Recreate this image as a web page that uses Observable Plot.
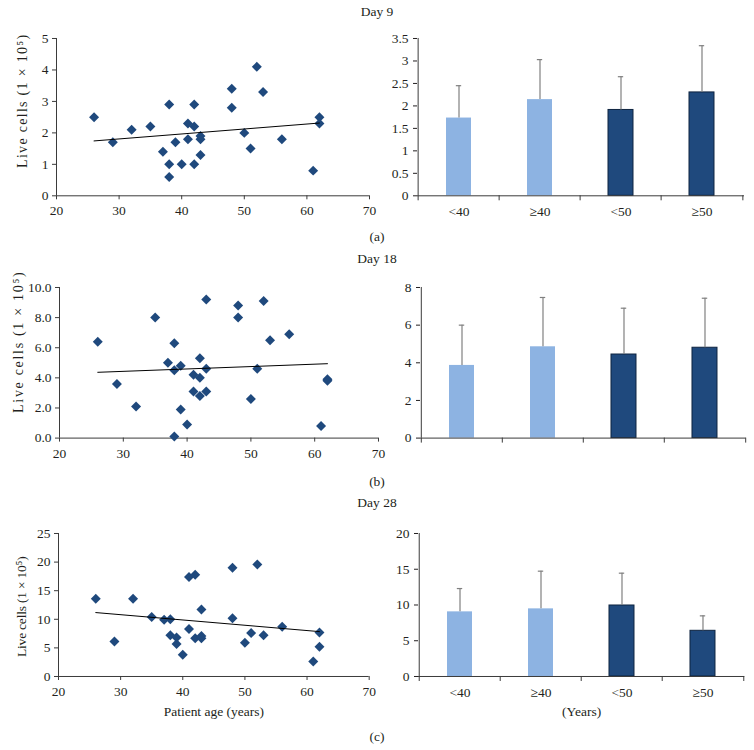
<!DOCTYPE html>
<html><head><meta charset="utf-8">
<script src="https://cdn.jsdelivr.net/npm/d3@7"></script>
<script src="https://cdn.jsdelivr.net/npm/@observablehq/plot@0.6"></script>
<style>
body{margin:0;background:#fff;}
#page{position:relative;width:754px;height:750px;font-family:"Liberation Serif",serif;color:#231f20;overflow:hidden;}
.t{position:absolute;font-size:13.5px;transform:translate(-50%,-50%);white-space:nowrap;}
</style></head><body><div id="page"></div>
<script>
// ---- data ----
const ages9  = [26,29,32,35,37,38,38,38,39,40,41,41,42,42,42,43,43,43,48,48,50,51,52,53,56,61,62,62];
const cells9 = [2.5,1.7,2.1,2.2,1.4,2.9,1.0,0.6,1.7,1.0,2.3,1.8,2.9,2.2,1.0,1.9,1.8,1.3,3.4,2.8,2.0,1.5,4.1,3.3,1.8,0.8,2.5,2.3];
const ages18  = [26,29,32,35,37,38,38,38,39,39,40,41,41,42,42,42,43,43,43,48,48,50,51,52,53,56,61,62,62];
const cells18 = [6.4,3.6,2.1,8.0,5.0,4.5,6.3,0.1,4.8,1.9,0.9,4.2,3.1,5.3,4.0,2.8,9.2,4.6,3.1,8.8,8.0,2.6,4.6,9.1,6.5,6.9,0.8,3.9,3.8];
const ages28  = [26,29,32,35,37,38,38,39,39,40,41,41,42,42,43,43,43,48,48,50,51,52,53,56,61,62,62];
const cells28 = [13.6,6.1,13.6,10.4,9.9,10.0,7.2,6.8,5.7,3.8,17.4,8.3,17.8,6.7,11.7,7.1,6.7,19.0,10.2,5.9,7.6,19.6,7.2,8.7,2.6,7.7,5.2];

const groups  = ["<40","≥40","<50","≥50"];
const cutoffs = [40,40,50,50];
const mean9  = [1.73,2.14,1.91,2.30];
const sd9    = [0.72,0.89,0.74,1.04];
const mean18 = [3.86,4.85,4.44,4.80];
const sd18   = [2.14,2.62,2.46,2.63];
const mean28 = [9.04,9.46,9.93,6.39];
const sd28   = [3.26,5.27,4.52,2.09];

const ageTicks = [20,30,40,50,60,70];
const yTicks9s = [0,1,2,3,4,5];
const yTicks9b = [0,0.5,1,1.5,2,2.5,3,3.5];
const yTicks18s = [0,2,4,6,8,10];
const yTicks18b = [0,2,4,6,8];
const yTicks28s = [0,5,10,15,20,25];
const yTicks28b = [0,5,10,15,20];

const titles = ["Day 9","Day 18","Day 28"];
const panelTags = ["(a)","(b)","(c)"];
const yLabel = "Live cells (1 × 10⁵)";
const xLabelAge = "Patient age (years)";
const xLabelGroup = "(Years)";

// ---- styling ----
const page = document.getElementById("page");
const INK = "#231f20";
const AXIS = "#3a3a3a";
const DOT = "#1f497d";
const LIGHT = "#8db3e2";
const DARK = "#1f497d";
const ERR = "#808080";
const FONT = '"Liberation Serif", serif';
const baseStyle = {fontFamily: FONT, fontSize:"13.5px", color:INK, overflow:"visible", background:"transparent"};

function place(node, left, top){
  node.style.position = "absolute";
  node.style.left = left + "px";
  node.style.top = top + "px";
  page.appendChild(node);
}
function label(text, x, y){
  const d = document.createElement("div");
  d.className = "t"; d.textContent = text;
  d.style.left = x + "px"; d.style.top = y + "px";
  page.appendChild(d);
}

function scatter(o){
  const data = o.ages.map((a,i)=>({age:a, cells:o.cells[i]}));
  const mt = 20, mb = 50, mr = 12;
  const W = o.right + mr, H = (o.bottom - o.top) + mt + mb;
  const p = Plot.plot({
    width: W, height: H,
    marginLeft: o.left, marginRight: mr, marginTop: mt, marginBottom: mb,
    style: baseStyle,
    x: {domain:[20,70]},
    y: {domain:[0,o.yMax]},
    marks: [
      Plot.axisX({ticks: ageTicks, tickSize: 4, tickPadding: 6, stroke: AXIS,
        label: o.xLabel || null, labelAnchor:"center", labelArrow:"none", labelOffset: 40}),
      Plot.axisY({ticks: o.yTicks, tickFormat: o.yFmt, tickSize: 4, tickPadding: 4, stroke: AXIS, label: null}),
      Plot.text([yLabel], {text: d => d, frameAnchor:"left", rotate:-90, lineAnchor:"top", textAnchor:"middle",
        dx: o.labX - o.left, dy: o.labY - (o.top + o.bottom)/2, fontSize: o.labSize, fill: INK}),
      Plot.ruleX([20], {stroke: AXIS}),
      Plot.ruleY([0], {stroke: AXIS}),
      Plot.dot(data, {x:"age", y:"cells", symbol:"diamond2", r:4.5, fill: DOT, stroke:"none"}),
      Plot.linearRegressionY(data, {x:"age", y:"cells", ci:0, stroke:"#000", strokeWidth:1})
    ]
  });
  // spread the y-axis title to the reference's length
  p.querySelectorAll("text").forEach(t => {
    if (t.textContent === yLabel) t.style.letterSpacing = o.labSpacing + "px";
  });
  place(p, 0, o.top - mt);
}

function bars(o){
  const data = groups.map((g,i)=>({group:g, cut:cutoffs[i], mean:o.mean[i], sd:o.sd[i]}));
  const ml = 45, mr = 12, mt = 20, mb = 50;
  const fw = o.right - o.left;
  const W = fw + ml + mr, H = (o.bottom - o.top) + mt + mb;
  const step = fw / groups.length;
  const pad = 0.686;
  const bw = step * (1 - pad);
  const cap = 6;
  const p = Plot.plot({
    width: W, height: H,
    marginLeft: ml, marginRight: mr, marginTop: mt, marginBottom: mb,
    style: baseStyle,
    x: {domain: groups, paddingInner: pad, paddingOuter: pad/2, tickSize: 0, tickPadding: 11,
        axis: o.showX ? "bottom" : null,
        label: o.xLabel || null, labelAnchor:"center", labelArrow:"none", labelOffset: 40},
    y: {domain:[0,o.yMax], ticks: o.yTicks, tickFormat: d => String(d), tickSize: 4, tickPadding: 5,
        label: null},
    marks: [
      Plot.barY(data.filter(d => d.cut === 40), {x:"group", y:"mean", fill: LIGHT}),
      Plot.barY(data.filter(d => d.cut === 50), {x:"group", y:"mean", fill: DARK, stroke:"#0e2440", strokeWidth:1}),
      Plot.ruleX(data, {x:"group", y1:"mean", y2: d => d.mean + d.sd, stroke: ERR, strokeWidth:1.2}),
      Plot.tickY(data, {x:"group", y: d => d.mean + d.sd, stroke: ERR, strokeWidth:1.2,
                        insetLeft:(bw-cap)/2, insetRight:(bw-cap)/2}),
      Plot.ruleY([0], {stroke: AXIS}),
      Plot.ruleX([groups[0]], {x: d => d, dx: -step/2, stroke: AXIS}),
      Plot.ruleX(groups, {x: d => d, y1: 0, y2: 0, dx: -step/2, insetTop: 5, stroke: AXIS}),
      Plot.ruleX([groups[groups.length-1]], {x: d => d, y1: 0, y2: 0, dx: step/2, insetTop: 5, stroke: AXIS})
    ]
  });
  place(p, o.left - ml, o.top - mt);
}

// Row a
label(titles[0], 377, 12);
scatter({ages: ages9, cells: cells9, yMax:5, yTicks: yTicks9s, yFmt: d => String(d),
         left:56, right:369, top:37.7, bottom:195, labX:17, labY:100, labSize:14, labSpacing:1.3});
bars({mean: mean9, sd: sd9, yMax:3.5, yTicks: yTicks9b, showX:true,
      left:417, right:744, top:37.7, bottom:195});
label(panelTags[0], 377, 237);

// Row b
label(titles[1], 377, 259);
scatter({ages: ages18, cells: cells18, yMax:10, yTicks: yTicks18s, yFmt: d3.format(".1f"),
         left:59, right:378, top:286.7, bottom:437.3, labX:13, labY:341, labSize:14, labSpacing:1.7});
bars({mean: mean18, sd: sd18, yMax:8, yTicks: yTicks18b, showX:false,
      left:419.7, right:745.3, top:286.7, bottom:437.3});
label(panelTags[1], 377, 482);

// Row c
label(titles[2], 377, 503);
scatter({ages: ages28, cells: cells28, yMax:25, yTicks: yTicks28s, yFmt: d => String(d),
         left:58, right:368.7, top:532.7, bottom:675.7, labX:16, labY:606, labSize:13.5, labSpacing:-0.2, xLabel: xLabelAge});
bars({mean: mean28, sd: sd28, yMax:20, yTicks: yTicks28b, showX:true, xLabel: xLabelGroup,
      left:418, right:744.3, top:532.7, bottom:675.7});
label(panelTags[2], 377, 737);
</script>
</body></html>
